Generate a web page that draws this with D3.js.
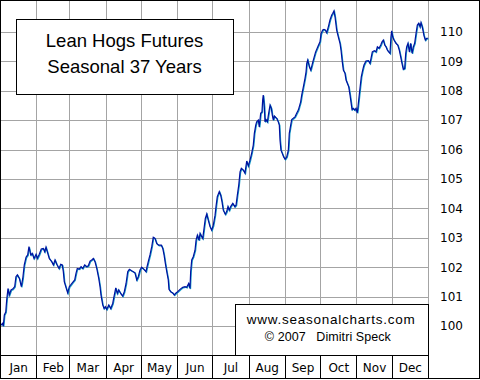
<!DOCTYPE html>
<html><head><meta charset="utf-8">
<script src="https://cdn.jsdelivr.net/npm/d3@7"></script>
<style>body{margin:0;background:#fff}svg{display:block}</style>
</head><body>
<svg id="c" width="480" height="380"></svg>
<script>
const months = ["Jan","Feb","Mar","Apr","May","Jun","Jul","Aug","Sep","Oct","Nov","Dec"];
const monthDays = [31,28,31,30,31,30,31,31,30,31,30,31];
const yTicks = [100,101,102,103,104,105,106,107,108,109,110];
const titleLines = ["Lean Hogs Futures","Seasonal 37 Years"];
const creditLines = ["www.seasonalcharts.com","\u00a9 2007   Dimitri Speck"];

// day of year (0-365) and seasonal index value
const days = [0.9,2.3,2.8,3.7,4.9,5.7,6.8,7.9,9.4,10.8,12.5,13.6,14.8,16.5,18.2,19.4,20.7,22.2,23.6,24.7,
26.2,27.5,29.0,30.7,31.8,33.5,35.2,36.9,38.1,39.2,40.3,42.0,44.1,45.5,46.9,48.4,50.3,51.8,53.1,54.0,
54.8,56.9,57.7,59.1,60.3,62.0,63.7,64.8,65.9,67.6,69.1,70.5,72.2,73.9,75.3,76.8,78.2,79.6,81.0,82.5,
84.2,85.3,86.1,87.6,88.7,89.8,91.0,92.7,94.4,96.1,97.5,98.7,100.0,101.2,102.9,104.6,106.0,107.5,108.9,110.3,
112.3,113.7,115.1,116.6,117.9,119.4,120.8,122.8,124.5,125.4,126.8,127.9,129.4,130.7,132.2,133.6,135.3,137.6,138.8,139.9,
141.0,142.2,143.5,144.1,145.6,147.3,148.6,150.1,151.5,153.5,155.8,157.8,159.2,160.9,162.0,162.6,163.5,164.8,166.3,167.2,
168.3,169.7,170.6,172.0,172.9,174.0,175.1,176.3,177.6,179.1,180.5,181.9,183.4,184.2,185.3,187.0,188.2,189.3,190.4,192.1,
193.3,194.4,195.5,196.7,198.5,200.2,201.3,202.4,203.6,204.7,205.8,207.5,208.9,210.4,211.8,213.2,214.6,216.0,216.9,218.1,
218.9,220.3,221.1,222.3,223.4,224.0,224.5,225.4,226.0,226.8,228.0,229.1,230.3,231.4,232.2,233.1,233.9,235.1,236.0,237.3,
238.2,238.8,239.6,240.7,241.9,243.1,244.5,245.9,246.7,247.9,248.8,250.1,251.6,253.0,254.4,255.2,256.4,257.3,258.7,260.1,
261.0,261.6,262.4,263.8,265.0,266.1,267.2,269.1,271.2,272.9,273.8,275.2,276.3,277.4,278.6,280.0,281.4,282.9,283.7,284.8,
285.7,287.1,288.5,290.0,290.8,291.9,292.8,294.2,295.1,296.2,297.4,298.5,299.3,300.2,301.3,302.5,303.6,304.7,305.9,307.0,
308.1,309.3,310.4,312.1,314.1,315.5,316.4,317.5,319.2,320.6,321.8,323.2,324.7,325.8,326.9,328.1,329.2,330.3,331.5,332.6,
333.4,334.0,334.9,336.0,337.7,339.2,340.5,341.7,342.8,343.9,345.1,346.0,346.8,347.9,349.1,350.2,351.4,352.5,353.6,354.8,
355.9,357.1,358.2,359.0,360.1,361.6,362.7,363.9,365.0];
const values = [100.04,100.10,100.00,100.38,100.48,100.89,101.28,101.06,101.23,101.26,101.34,101.68,101.74,101.62,101.34,101.62,102.08,102.34,102.42,102.70,
102.42,102.47,102.30,102.44,102.30,102.44,102.62,102.64,102.53,102.68,102.53,102.30,102.19,102.08,102.25,102.10,101.96,102.10,102.08,101.85,
101.51,101.23,101.13,101.34,101.40,101.49,101.57,101.79,101.96,101.94,102.02,101.96,102.08,102.02,102.05,102.21,102.25,102.30,102.19,101.96,
101.62,101.34,101.06,100.72,100.60,100.66,100.57,100.72,100.60,100.77,101.06,101.30,101.11,101.23,101.11,101.02,101.17,101.45,101.85,101.93,
101.88,101.85,101.81,101.57,101.68,101.91,102.00,101.93,101.85,102.02,102.25,102.42,102.70,103.02,102.98,102.81,102.75,102.75,102.64,102.42,
102.13,101.85,101.57,101.25,101.17,101.13,101.06,101.13,101.17,101.25,101.32,101.34,101.32,101.45,101.28,101.85,102.25,102.36,102.58,102.92,
103.09,102.92,103.15,103.04,102.98,103.32,103.66,103.81,103.60,103.38,103.26,103.43,103.77,104.06,104.40,104.57,104.45,104.23,103.94,103.80,
103.89,104.06,103.94,104.06,104.17,104.06,104.11,104.45,104.79,105.24,105.36,105.30,105.20,105.61,105.44,105.64,105.87,106.15,106.55,106.83,
106.94,107.00,106.77,107.23,107.28,107.68,107.85,107.45,106.94,107.02,106.94,107.23,107.51,107.40,107.17,107.00,107.14,107.09,107.06,106.94,
106.83,106.32,105.98,105.87,105.75,105.67,105.75,105.98,106.55,106.83,107.02,107.06,107.11,107.23,107.34,107.45,107.62,107.85,108.13,108.42,
108.64,108.93,109.04,108.81,108.70,108.87,109.04,109.31,109.51,109.66,109.94,110.06,110.08,110.06,109.97,110.17,110.40,110.57,110.62,110.71,
110.51,110.06,109.83,109.60,109.38,108.98,108.70,108.59,108.36,108.25,108.13,107.85,107.62,107.36,107.40,107.34,107.40,107.25,107.68,108.08,
108.47,108.70,108.87,109.01,109.02,108.93,109.10,109.32,109.36,109.32,109.49,109.44,109.55,109.66,109.72,109.55,109.49,109.38,109.32,109.27,
109.83,110.03,109.83,109.72,109.61,109.55,109.38,109.15,108.93,108.73,108.76,109.27,109.49,109.61,109.32,109.61,109.27,109.49,109.61,109.95,
110.23,110.29,110.17,110.31,110.17,109.86,109.72,109.78,109.78];

const svg = d3.select("#c");
const W = 428, H = 355;
const x = d3.scaleLinear().domain([0, 365]).range([0, W]);
const y = d3.scaleLinear().domain([99.02, 111.08]).range([H, 0]);
const monthStarts = monthDays.reduce((a, d) => { a.push(a[a.length-1] + d); return a; }, [0]);

// gridlines
const grid = svg.append("g").attr("stroke", "#a4a4a4").attr("stroke-width", 1).attr("shape-rendering", "crispEdges");
grid.selectAll("line.h").data(yTicks).join("line")
  .attr("x1", 0).attr("x2", W).attr("y1", d => Math.round(y(d)) + 0.5).attr("y2", d => Math.round(y(d)) + 0.5);
grid.selectAll("line.v").data(monthStarts.slice(1)).join("line")
  .attr("x1", d => Math.round(x(d)) + 0.5).attr("x2", d => Math.round(x(d)) + 0.5).attr("y1", 0).attr("y2", H);

// series line
const pts = days.map((d, i) => [d, values[i]]);
const line = d3.line().x(d => x(d[0])).y(d => y(d[1]));
svg.append("path").datum(pts).attr("d", line).attr("fill", "none")
  .attr("stroke", "#1aa0c8").attr("stroke-width", 1.2).attr("transform", "translate(0.6,0.6)");
svg.append("path").datum(pts).attr("d", line).attr("fill", "none")
  .attr("stroke", "#0010a0").attr("stroke-width", 1.2);

// right value axis
const ay = svg.append("g").attr("transform", `translate(${W},0)`)
  .call(d3.axisRight(y).tickValues(yTicks).tickSize(0).tickPadding(12).tickFormat(d3.format("d")));
ay.select(".domain").remove();
ay.selectAll("text").attr("font-family", "DejaVu Sans, sans-serif").attr("font-size", 12).attr("fill", "#000");

// month band
const band = svg.append("g").attr("stroke", "#000").attr("stroke-width", 1).attr("shape-rendering", "crispEdges");
band.append("line").attr("x1", 0).attr("x2", W).attr("y1", H + 0.5).attr("y2", H + 0.5);
band.selectAll("line.m").data(monthStarts.slice(1)).join("line")
  .attr("x1", d => Math.round(x(d)) + 0.5).attr("x2", d => Math.round(x(d)) + 0.5).attr("y1", H).attr("y2", 378);
const mids = months.map((m, i) => (monthStarts[i] + monthStarts[i+1]) / 2);
const ax = svg.append("g").attr("transform", `translate(0,${H})`)
  .call(d3.axisBottom(x).tickValues(mids).tickSize(0).tickPadding(8).tickFormat((d, i) => months[i]));
ax.select(".domain").remove();
ax.selectAll("text").attr("font-family", "DejaVu Sans, sans-serif").attr("font-size", 12).attr("fill", "#000");

// title box
svg.append("rect").attr("x", 16.5).attr("y", 19.5).attr("width", 217).attr("height", 75)
  .attr("fill", "#fff").attr("stroke", "#000").attr("stroke-width", 1).attr("shape-rendering", "crispEdges");
svg.selectAll("text.title").data(titleLines).join("text")
  .attr("x", 124.5).attr("y", (d, i) => 46.7 + i * 26.5).attr("text-anchor", "middle")
  .attr("font-family", "Liberation Sans, Arial, sans-serif").attr("font-size", 18.5).attr("fill", "#000")
  .text(d => d);

// credit box
svg.append("rect").attr("x", 235.5).attr("y", 304.5).attr("width", W - 235).attr("height", 50.5)
  .attr("fill", "#fff").attr("stroke", "#000").attr("stroke-width", 1).attr("shape-rendering", "crispEdges");
svg.selectAll("text.credit").data(creditLines).join("text")
  .attr("x", (d, i) => i ? 327.8 : 330.8).attr("y", (d, i) => i ? 340.5 : 323.5).attr("text-anchor", "middle")
  .attr("font-family", "Liberation Sans, Arial, sans-serif").attr("font-size", (d, i) => i ? 12.5 : 13.5)
  .attr("textLength", (d, i) => i ? 126 : 168).attr("lengthAdjust", "spacing")
  .style("white-space", "pre").attr("fill", "#000").text(d => d);

// outer border
svg.append("rect").attr("x", 0.5).attr("y", 0.5).attr("width", 479).attr("height", 378)
  .attr("fill", "none").attr("stroke", "#000").attr("stroke-width", 1).attr("shape-rendering", "crispEdges");
</script>
</body></html>
